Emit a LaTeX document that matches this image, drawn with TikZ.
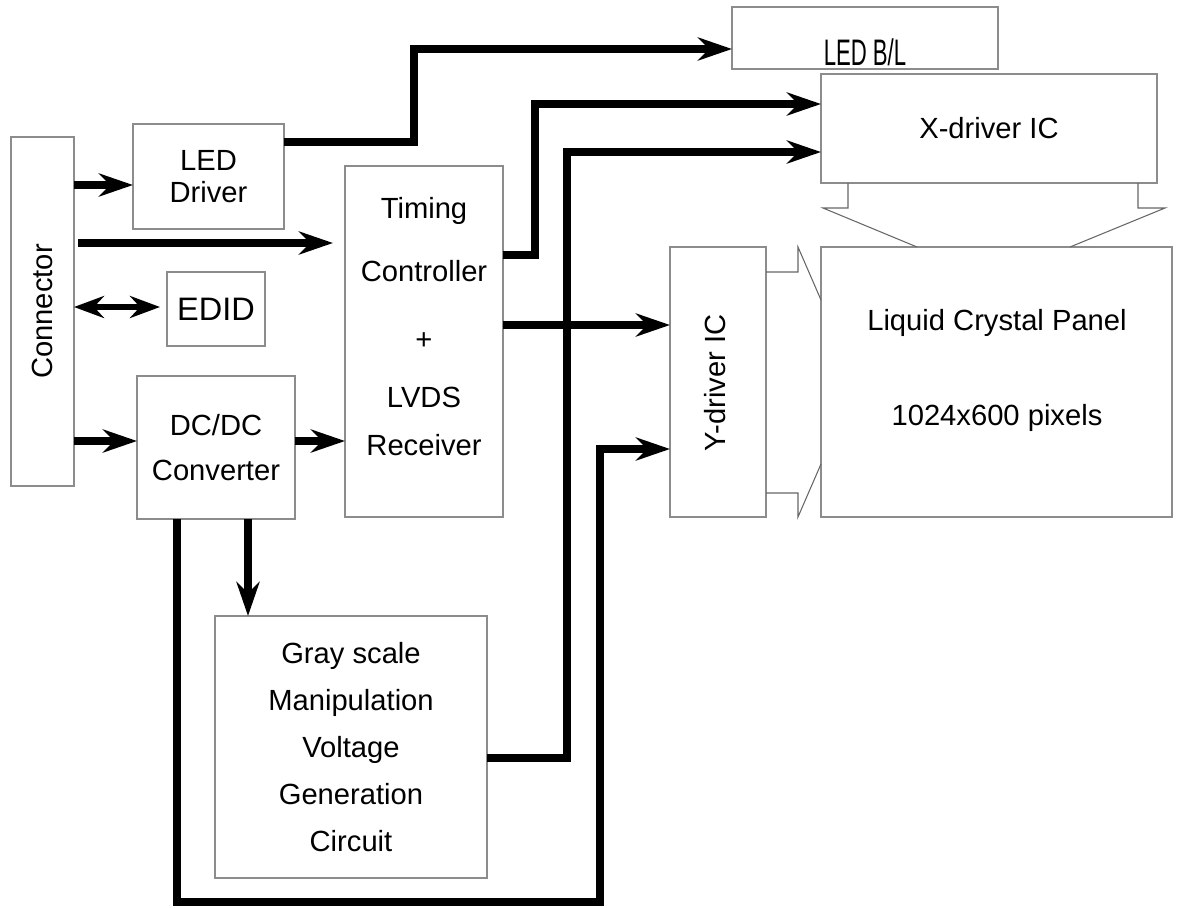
\documentclass[tikz,border=0pt]{standalone}
\usepackage{fontspec}
\setmainfont{Liberation Sans}
\usepackage{graphicx}
\usepackage{tikz}
\usetikzlibrary{arrows.meta,calc}

\begin{document}
\begin{tikzpicture}[
    x=0.2mm, y=-0.2mm,
    font=\fontsize{16.6}{18.5}\selectfont,
    blk/.style={rectangle, draw=black!45, line width=0.6pt, inner sep=0pt, outer sep=0pt, align=center},
    sig/.style={line width=5pt, line join=miter, -{Stealth[length=6.8mm,width=4.6mm,inset=2.2mm]}},
    bus/.style={line width=3.5pt, {Stealth[length=6mm,width=4.4mm,inset=2mm]}-{Stealth[length=6mm,width=4.4mm,inset=2mm]}},
    outline/.style={draw=black!60, line width=0.6pt}
]
\useasboundingbox (0,0) rectangle (1180,907);

\node[blk, minimum width=12.6mm, minimum height=69.8mm] (conn) at (42.5,311.5) {};
\node[rotate=90] (conntxt) at (conn) {Connector};
\node[blk, minimum width=30.2mm, minimum height=21mm] (ledd) at (208.5,176.5) {LED\\Driver};
\node[blk, minimum width=19.6mm, minimum height=14.8mm, font=\fontsize{18.5}{20}\selectfont] (edid) at (216,309) {EDID};
\node[blk, minimum width=31.6mm, minimum height=28.6mm] (dcdc) at (216,447.5) {DC/DC\\[7.5pt]Converter};
\node[blk, minimum width=31.6mm, minimum height=70.2mm] (timing) at (424,341.5) {};
\node[align=center, anchor=north, inner sep=0pt] (timingtxt) at (424,197) {Timing\\[17.2pt]Controller\\[20.1pt]+\\[15pt]LVDS\\[8.7pt]Receiver};

\node[blk, minimum width=53.2mm, minimum height=12.4mm] (ledbl) at (865,38) {};
\node[anchor=base, inner sep=0pt] (ledbltxt) at (865,65) {\scalebox{0.6}[1]{\fontsize{21}{21}\selectfont LED B/L}};
\node[blk, minimum width=67.2mm, minimum height=21.8mm] (xdrv) at (989,128.5) {X-driver IC};
\node[blk, minimum width=70.2mm, minimum height=54mm] (panel) at (996.5,382) {};
\node[anchor=base, inner sep=0pt] (paneltitle) at (997,330) {Liquid Crystal Panel};
\node[anchor=base, inner sep=0pt] (panelres) at (997,425) {1024x600 pixels};
\node[blk, minimum width=19.2mm, minimum height=54mm] (ydrv) at (718,382) {};
\node[rotate=90] (ydrvtxt) at (715,383) {Y-driver IC};
\node[blk, minimum width=54.4mm, minimum height=52.4mm] (gray) at (351,747) {Gray scale\\[8.2pt]Manipulation\\[8.2pt]Voltage\\[8.2pt]Generation\\[8.2pt]Circuit};

% connector side
\path ([yshift=-1.7mm]ledd.west) coordinate (c2l);
\draw[sig] (conn.east |- c2l) -- (c2l);
\path ([xshift=-2.4mm, yshift=19.7mm]timing.west) coordinate (c2t);
\draw[sig] ([xshift=0.8mm]conn.east |- c2t) -- (c2t);
\path ([xshift=-1.4mm, yshift=0.4mm]edid.west) coordinate (c2e);
\draw[bus] (conn.east |- c2e) -- (c2e);
\path ([yshift=1.3mm]dcdc.west) coordinate (c2d);
\draw[sig] (conn.east |- c2d) -- (c2d);
\draw[sig] ([yshift=1.3mm]dcdc.east) -- (timing.west |- c2d);

% led backlight
\draw[sig] ([yshift=-3.6mm]ledd.north east) -- ++(130,0) |- ([yshift=-2.2mm]ledbl.west);

% timing controller outputs
\draw[sig] ([yshift=-17.8mm]timing.north east) -- ++(32,0) |- ([yshift=4.9mm]xdrv.west);
\path ([yshift=3.3mm]timing.east) coordinate (t2y);
\draw[sig] (t2y) -- (t2y -| ydrv.west);

% gray scale voltages
\draw[sig] ([yshift=-2.2mm]gray.east) -- ++(80,0) |- ([yshift=-4.7mm]xdrv.west);
\draw[sig] ([xshift=-7.8mm]dcdc.south) -- ++(0,383) -- ++(423,0) |- ([yshift=-13.4mm]ydrv.west);
\path ([xshift=6.4mm]dcdc.south) coordinate (d2g);
\draw[sig] (d2g) -- (d2g |- gray.north);

% block arrows to the panel
\draw[outline] ([xshift=5.4mm]xdrv.south west) -- ++(0,25) -- ++(-25,0) -- ([xshift=19.2mm]panel.north west);
\draw[outline] ([xshift=-3.8mm]xdrv.south east) -- ++(0,25) -- ++(27,0) -- ([xshift=-20.4mm]panel.north east);
\draw[outline] ([yshift=22mm]ydrv.east) -- ++(32,0) -- ++(0,-25) -- ([yshift=16.4mm]panel.west);
\draw[outline] ([yshift=-22.2mm]ydrv.east) -- ++(32,0) -- ++(0,24) -- ([yshift=-16.4mm]panel.west);
\end{tikzpicture}
\end{document}
